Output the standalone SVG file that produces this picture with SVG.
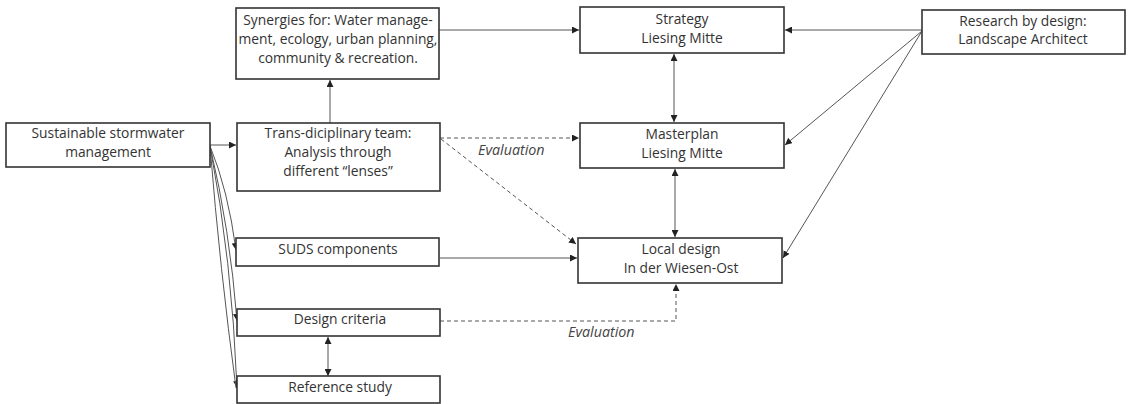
<svg xmlns="http://www.w3.org/2000/svg" width="1130" height="404" viewBox="0 0 1130 404">
<style>
.box{fill:#fff;stroke:#333;stroke-width:1.6}
.t{font-family:"Open Sans",sans-serif;font-size:13.8px;fill:#333;text-anchor:middle}
.ev{font-family:"Open Sans",sans-serif;font-size:14.3px;fill:#444;font-style:italic}
.c{fill:none;stroke:#555;stroke-width:1}
.d{fill:none;stroke:#555;stroke-width:1;stroke-dasharray:4 3}
</style>
<defs>
<marker id="ah" viewBox="0 0 10 10" refX="10" refY="5" markerWidth="7" markerHeight="7" orient="auto" markerUnits="userSpaceOnUse">
<path d="M0,0 L10,5 L0,10 z" fill="#222"/>
</marker>
<marker id="as" viewBox="0 0 10 10" refX="0" refY="5" markerWidth="7" markerHeight="7" orient="auto" markerUnits="userSpaceOnUse">
<path d="M10,0 L0,5 L10,10 z" fill="#222"/>
</marker>
</defs>
<rect width="1130" height="404" fill="#fff"/>
<g id="connectors">
<line class="c" x1="210" y1="145" x2="236" y2="145" marker-end="url(#ah)"/>
<line class="c" x1="330" y1="123" x2="330" y2="80" marker-end="url(#ah)"/>
<line class="c" x1="439" y1="30" x2="579" y2="30" marker-end="url(#ah)"/>
<line class="c" x1="922" y1="30" x2="785" y2="30" marker-end="url(#ah)"/>
<line class="c" x1="922" y1="31" x2="785" y2="145" marker-end="url(#ah)"/>
<line class="c" x1="922" y1="31" x2="783" y2="258" marker-end="url(#ah)"/>
<line class="c" x1="674" y1="54" x2="674" y2="122" marker-start="url(#as)" marker-end="url(#ah)"/>
<line class="c" x1="675" y1="169" x2="675" y2="237" marker-start="url(#as)" marker-end="url(#ah)"/>
<line class="c" x1="440" y1="258" x2="577" y2="258" marker-end="url(#ah)"/>
<line class="c" x1="328" y1="337" x2="328" y2="376" marker-start="url(#as)" marker-end="url(#ah)"/>
<line class="d" x1="440" y1="138" x2="579" y2="138" marker-end="url(#ah)"/>
<line class="d" x1="441" y1="139" x2="576" y2="244" marker-end="url(#ah)"/>
<polyline class="d" points="440,321 676,321 676,284" marker-end="url(#ah)"/>
<path class="c" d="M210,146 Q228,190 236,250" marker-end="url(#ah)"/>
<path class="c" d="M210,146 Q230,230 237,321" marker-end="url(#ah)"/>
<path class="c" d="M210,146 Q232,260 237,388" marker-end="url(#ah)"/>
<path class="c" d="M210,146 Q220,270 236,388"/>
<text class="ev" x="478" y="155">Evaluation</text>
<text class="ev" x="568" y="337">Evaluation</text>
</g>
<g id="sustainable">
<rect class="box" x="6" y="123" width="204" height="44"/>
<text class="t" x="108" y="138">Sustainable stormwater</text>
<text class="t" x="108" y="157">management</text>
</g>
<g id="synergies">
<rect class="box" x="236" y="8" width="203" height="71"/>
<text class="t" x="338" y="25">Synergies for: Water manage-</text>
<text class="t" x="338" y="44">ment, ecology, urban planning,</text>
<text class="t" x="338" y="63">community &amp; recreation.</text>
</g>
<g id="trans">
<rect class="box" x="237" y="123" width="203" height="68"/>
<text class="t" x="338" y="138">Trans-diciplinary team:</text>
<text class="t" x="338" y="157">Analysis through</text>
<text class="t" x="338" y="176">different “lenses”</text>
</g>
<g id="strategy">
<rect class="box" x="580" y="7" width="204" height="46"/>
<text class="t" x="682" y="24">Strategy</text>
<text class="t" x="682" y="43">Liesing Mitte</text>
</g>
<g id="research">
<rect class="box" x="922" y="10" width="203" height="44"/>
<text class="t" x="1023" y="26">Research by design:</text>
<text class="t" x="1023" y="44">Landscape Architect</text>
</g>
<g id="masterplan">
<rect class="box" x="580" y="123" width="204" height="45"/>
<text class="t" x="682" y="139">Masterplan</text>
<text class="t" x="682" y="158">Liesing Mitte</text>
</g>
<g id="local">
<rect class="box" x="578" y="238" width="204" height="45"/>
<text class="t" x="681" y="254">Local design</text>
<text class="t" x="681" y="273">In der Wiesen-Ost</text>
</g>
<g id="suds">
<rect class="box" x="236" y="238" width="203" height="28"/>
<text class="t" x="338" y="254">SUDS components</text>
</g>
<g id="criteria">
<rect class="box" x="237" y="309" width="203" height="27"/>
<text class="t" x="340" y="324">Design criteria</text>
</g>
<g id="reference">
<rect class="box" x="237" y="376" width="203" height="27"/>
<text class="t" x="340" y="392">Reference study</text>
</g>
</svg>
